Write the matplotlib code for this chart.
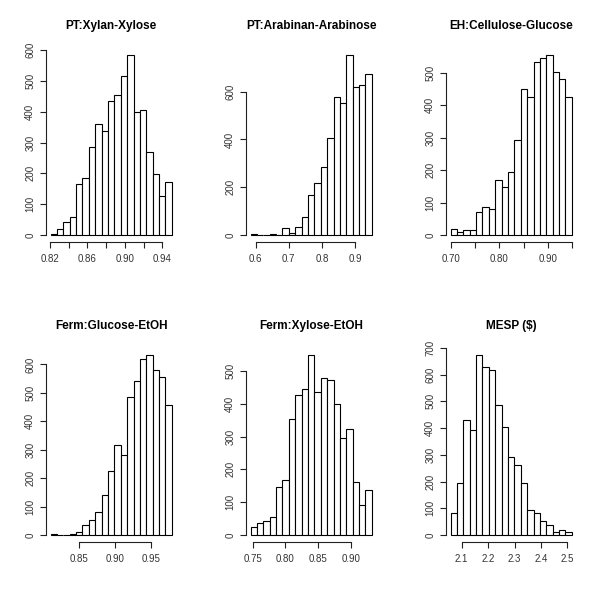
import numpy as np
import matplotlib
matplotlib.use("Agg")
import matplotlib.pyplot as plt

plt.rcParams['font.family'] = ['Liberation Sans', 'DejaVu Sans']

titles = ["PT:Xylan-Xylose", "PT:Arabinan-Arabinose", "EH:Cellulose-Glucose",
          "Ferm:Glucose-EtOH", "Ferm:Xylose-EtOH", "MESP ($)"]

# histogram ranges (min, max of the data) - 19 equal bins each
ranges = [(0.8207, 0.9500), (0.5847, 0.9510), (0.7000, 0.9490),
          (0.8100, 0.9794), (0.7470, 0.9316), (2.0580, 2.5170)]

counts_xylan = [3, 21, 41, 59, 165, 186, 285, 359, 338, 435, 453, 515, 586, 399, 406, 270, 197, 128, 171]
counts_arabinan = [4, 0, 0, 3, 0, 28, 7, 33, 74, 169, 219, 283, 407, 579, 554, 756, 621, 628, 675]
counts_cellulose = [18, 8, 16, 14, 70, 85, 79, 170, 148, 193, 294, 450, 426, 533, 545, 557, 502, 480, 427]
counts_glucose = [3, 0, 0, 3, 12, 34, 52, 81, 140, 224, 317, 283, 484, 541, 620, 635, 581, 557, 457]
counts_xylose = [23, 36, 44, 54, 145, 168, 352, 427, 444, 550, 436, 478, 472, 400, 296, 322, 161, 91, 136]
counts_mesp = [83, 193, 430, 392, 675, 629, 617, 487, 404, 290, 262, 193, 93, 82, 52, 36, 11, 19, 10]
all_counts = [counts_xylan, counts_arabinan, counts_cellulose,
              counts_glucose, counts_xylose, counts_mesp]

x_ticks = [[0.82, 0.84, 0.86, 0.88, 0.90, 0.92, 0.94],
           [0.6, 0.7, 0.8, 0.9],
           [0.70, 0.75, 0.80, 0.85, 0.90, 0.95],
           [0.85, 0.90, 0.95],
           [0.75, 0.80, 0.85, 0.90],
           [2.1, 2.2, 2.3, 2.4, 2.5]]
x_labels = [["0.82", "", "0.86", "", "0.90", "", "0.94"],
            ["0.6", "0.7", "0.8", "0.9"],
            ["0.70", "", "0.80", "", "0.90", ""],
            ["0.85", "0.90", "0.95"],
            ["0.75", "0.80", "0.85", "0.90"],
            ["2.1", "2.2", "2.3", "2.4", "2.5"]]
y_ticks = [[0, 100, 200, 300, 400, 500, 600],
           [0, 200, 400, 600],
           [0, 100, 200, 300, 400, 500],
           [0, 100, 200, 300, 400, 500, 600],
           [0, 100, 200, 300, 400, 500],
           [0, 100, 200, 300, 400, 500, 600, 700]]

fig = plt.figure(figsize=(6, 6), dpi=100)
W = H = 600.0
for i in range(6):
    r, c = divmod(i, 3)
    left = (200 * c + 45.7) / W
    width = 131.0 / W
    top_px = 300 * r + 47.3
    bot_px = 300 * r + 242.2
    ax = fig.add_axes([left, 1 - bot_px / H, width, (bot_px - top_px) / H])
    lo, hi = ranges[i]
    cnt = np.array(all_counts[i], dtype=float)
    edges = np.linspace(lo, hi, len(cnt) + 1)
    ax.bar(edges[:-1], cnt, width=np.diff(edges), align='edge',
           facecolor='white', edgecolor='black', linewidth=0.8)
    ext = 0.04 * (hi - lo)
    ax.set_xlim(lo - ext, hi + ext)
    m = cnt.max()
    ax.set_ylim(-0.04 * m, 1.04 * m)
    for s in ['top', 'right']:
        ax.spines[s].set_visible(False)
    ax.spines['left'].set_bounds(y_ticks[i][0], y_ticks[i][-1])
    ax.spines['bottom'].set_bounds(x_ticks[i][0], x_ticks[i][-1])
    for s in ['left', 'bottom']:
        ax.spines[s].set_linewidth(0.8)
        ax.spines[s].set_color('#222222')
    ax.set_xticks(x_ticks[i])
    ax.set_xticklabels(x_labels[i])
    ax.set_yticks(y_ticks[i])
    ax.set_yticklabels([str(v) for v in y_ticks[i]])
    ax.tick_params(axis='both', direction='out', length=4, width=0.8,
                   color='#222222', labelsize=7, labelcolor='#333333')
    ax.tick_params(axis='x', pad=4.5)
    ax.tick_params(axis='y', pad=3.5, labelrotation=90)
    for lab in ax.get_yticklabels():
        lab.set_va('center')
    ax.set_title(titles[i], fontsize=8.5, fontweight='bold', pad=13)

fig.savefig("out.png", dpi=100, facecolor='white')
